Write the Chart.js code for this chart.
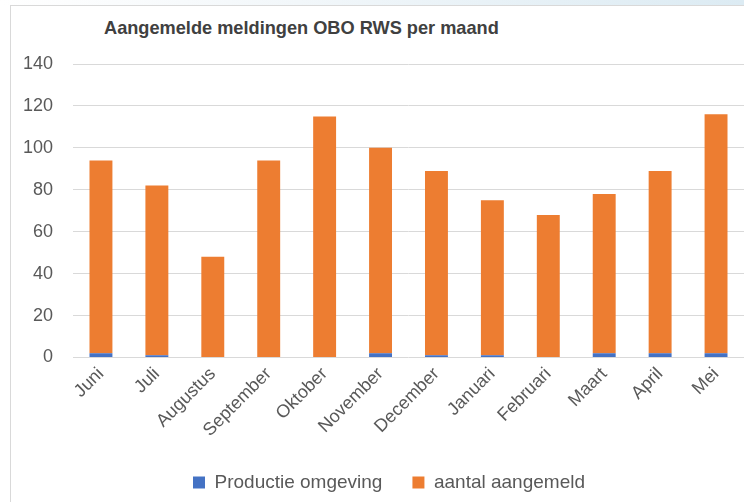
<!DOCTYPE html>
<html>
<head>
<meta charset="utf-8">
<script src="https://cdn.jsdelivr.net/npm/chart.js@4.4.1/dist/chart.umd.min.js"></script>
<style>
  html, body { margin: 0; padding: 0; background: #ffffff; }
  #wrap { position: relative; width: 744px; height: 502px; overflow: hidden; background: #fff; }
  #topstrip { position: absolute; left: 0; top: 0; width: 744px; height: 5px;
    background: linear-gradient(to right, #ffffff 0%, #f2f7fa 40%, #dcebf3 100%); }
  #frame { position: absolute; left: 10px; top: 5px; width: 740px; height: 500px;
    border-left: 1px solid #d9d9d9; border-top: 1px solid #d9d9d9; box-sizing: border-box; }
  #title { position: absolute; left: 104px; top: 18px; font-family: "Liberation Sans", Arial, sans-serif;
    font-weight: bold; font-size: 18.2px; color: #404040; white-space: nowrap; }
  canvas { position: absolute; left: 0; top: 0; }
</style>
</head>
<body>
<div id="wrap">
  <div id="topstrip"></div>
  <div id="frame"></div>
  <div id="title">Aangemelde meldingen OBO RWS per maand</div>
  <canvas id="c" width="744" height="502"></canvas>
</div>
<script>
const categories = ["Juni", "Juli", "Augustus", "September", "Oktober", "November", "December", "Januari", "Februari", "Maart", "April", "Mei"];
const productieOmgeving = [2, 1, 0, 0, 0, 2, 1, 1, 0, 2, 2, 2];
const aantalAangemeld = [92, 81, 48, 94, 115, 98, 88, 74, 68, 76, 87, 114];
const yTicks = [0, 20, 40, 60, 80, 100, 120, 140];

const FONT = "'Liberation Sans', Arial, sans-serif";
const TEXT = "#595959";

const legendShift = {
  id: "legendShift",
  afterLayout(chart) {
    if (chart.legend) { chart.legend.left += 17; chart.legend.right += 17; }
  }
};

new Chart(document.getElementById("c"), {
  type: "bar",
  data: {
    labels: categories,
    datasets: [
      { label: "Productie omgeving", data: productieOmgeving, backgroundColor: "#4472c4",
        barPercentage: 0.82, categoryPercentage: 0.5 },
      { label: "aantal aangemeld", data: aantalAangemeld, backgroundColor: "#ed7d31",
        barPercentage: 0.82, categoryPercentage: 0.5 }
    ]
  },
  plugins: [legendShift],
  options: {
    responsive: false,
    animation: false,
    devicePixelRatio: 1,
    layout: { padding: { left: 0, right: 0, top: 64, bottom: 0 } },
    plugins: {
      title: { display: false },
      tooltip: { enabled: false },
      legend: {
        position: "bottom",
        labels: { font: { family: FONT, size: 19 }, color: TEXT, boxWidth: 12, boxHeight: 12, padding: 30 },
        onClick: null
      }
    },
    scales: {
      x: {
        stacked: true,
        grid: { display: false, drawTicks: false },
        border: { display: false },
        afterFit: (s) => { s.height -= 4; },
        ticks: { font: { family: FONT, size: 18 }, color: TEXT, minRotation: 45, maxRotation: 45, padding: 6 }
      },
      y: {
        stacked: true,
        min: 0, max: 140,
        afterBuildTicks: (s) => { s.ticks = yTicks.map(v => ({ value: v })); },
        afterFit: (s) => { s.width = 73; },
        grid: { color: "#d9d9d9", drawTicks: false },
        border: { display: false },
        ticks: { font: { family: FONT, size: 18 }, color: TEXT, padding: 20 }
      }
    }
  }
});
</script>
</body>
</html>
